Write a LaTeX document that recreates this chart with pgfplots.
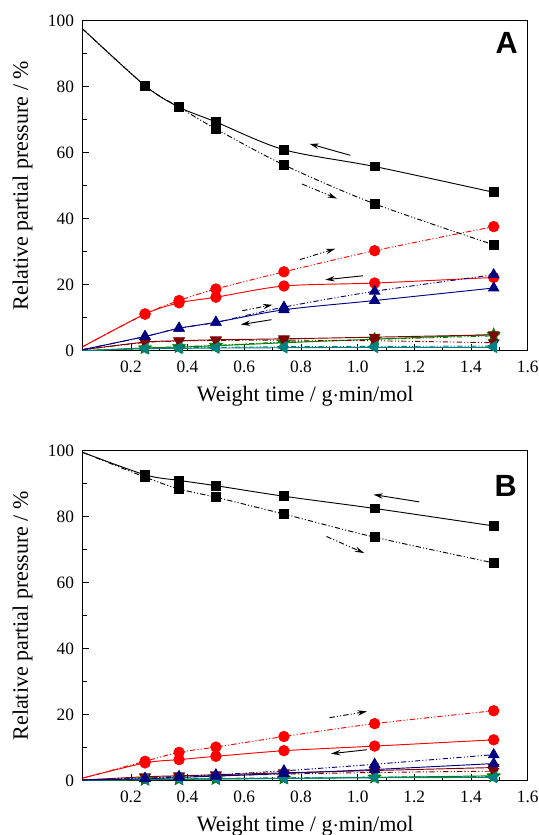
\documentclass[border=0pt]{standalone}
\usepackage{pgfplots}
\pgfplotsset{compat=1.18}
\usepackage{pgfplotstable}
\usetikzlibrary{arrows.meta}
\usepackage{fontspec}
\setmainfont{Liberation Serif}
\setsansfont{Liberation Sans}

\definecolor{cnavy}{RGB}{0,0,128}
\definecolor{cmaroon}{RGB}{128,0,0}
\definecolor{cgreen}{RGB}{0,128,0}
\definecolor{cteal}{RGB}{0,128,128}

% filled five-point star
\pgfdeclareplotmark{fstar}{%
  \pgfpathmoveto{\pgfpointpolar{90}{\pgfplotmarksize}}%
  \pgfpathlineto{\pgfpointpolar{126}{0.45\pgfplotmarksize}}%
  \pgfpathlineto{\pgfpointpolar{162}{\pgfplotmarksize}}%
  \pgfpathlineto{\pgfpointpolar{198}{0.45\pgfplotmarksize}}%
  \pgfpathlineto{\pgfpointpolar{234}{\pgfplotmarksize}}%
  \pgfpathlineto{\pgfpointpolar{270}{0.45\pgfplotmarksize}}%
  \pgfpathlineto{\pgfpointpolar{306}{\pgfplotmarksize}}%
  \pgfpathlineto{\pgfpointpolar{342}{0.45\pgfplotmarksize}}%
  \pgfpathlineto{\pgfpointpolar{18}{\pgfplotmarksize}}%
  \pgfpathlineto{\pgfpointpolar{54}{0.45\pgfplotmarksize}}%
  \pgfpathclose\pgfusepathqfillstroke}

% x, then solid/dash-dot pairs: black squares, red circles, blue up, maroon down, green stars, teal left
\pgfplotstableread{
x    ks   kd   rs   rd   bs   bd   ms  md  gs  gd  ts  td
0.03 97.5 97.5 1.2  1.2  0.3  0.3  0.3 0.3 0.0 0.0 0.0 0.0
0.25 80.3 80.3 11.1 11.1 4.3  4.3  2.6 2.5 0.8 0.8 0.6 0.7
0.37 73.8 73.8 14.5 15.2 6.8  6.8  3.0 2.9 1.1 1.2 0.7 0.9
0.50 69.3 67.2 16.2 18.7 8.6  8.6  3.3 3.1 1.5 1.6 0.8 1.0
0.74 60.9 56.3 19.6 23.9 12.4 13.2 3.6 3.2 2.4 2.6 0.9 1.2
1.06 55.8 44.5 20.5 30.3 15.2 18.0 4.1 3.0 3.5 3.4 1.0 1.3
1.48 48.0 32.1 22.2 37.6 19.0 23.0 4.8 2.4 4.9 4.5 1.0 1.4
}\tabA

\pgfplotstableread{
x    ks   kd   rs   rd   bs   bd   ms  md  gs  gd  ts  td
0.03 99.5 99.5 0.8  0.8  0.2  0.2  0.2 0.2 0.0 0.0 0.0 0.0
0.25 92.7 92.0 5.4  5.9  0.6  0.7  1.2 1.0 0.3 0.3 0.4 0.5
0.37 91.0 88.4 6.4  8.6  1.0  1.3  1.5 1.2 0.4 0.5 0.5 0.6
0.50 89.4 85.9 7.4  10.2 1.4  1.8  1.8 1.5 0.5 0.6 0.6 0.7
0.74 86.2 80.8 9.1  13.4 2.2  3.0  2.4 2.0 0.7 0.8 0.7 0.9
1.06 82.5 73.8 10.5 17.3 3.4  5.0  3.1 2.5 1.0 1.1 0.9 1.0
1.48 77.2 66.0 12.4 21.2 5.2  7.9  4.0 2.9 1.5 1.3 1.0 1.1
}\tabB

\tikzset{
  arr/.style={black, line width=0.7pt, -{Stealth[length=7pt,width=4pt]}},
  darr/.style={arr, dash pattern=on 4pt off 1.6pt on 0.8pt off 1.6pt on 0.8pt off 1.6pt},
}

\pgfplotsset{
  panel/.style={
    scale only axis, width=333.75pt, height=247.5pt,
    xmin=0.03, xmax=1.6, ymin=0, ymax=100,
    xtick={0.2,0.4,...,1.6}, ytick={0,20,...,100},
    minor x tick num=1, minor y tick num=1,
    tick align=inside, xtick pos=bottom, ytick pos=left,
    major tick length=5pt, minor tick length=3pt,
    tick style={black, line width=0.5pt},
    axis line style={line width=0.7pt},
    /pgf/number format/assume math mode=true,
    tick label style={font=\fontsize{13}{13}\selectfont},
    xticklabel style={yshift=-4pt, /pgf/number format/.cd, fixed, fixed zerofill, precision=1},
    yticklabel style={xshift=-3pt},
    label style={font=\fontsize{16.5}{16.5}\selectfont},
    xlabel={Weight time / g$\cdot$min/mol},
    ylabel={Relative partial pressure / \%},
    xlabel style={at={(rel axis cs:0.5,0)}, anchor=center, yshift=-34pt},
    ylabel style={at={(axis description cs:-0.135,0.5)}, anchor=center},
  },
  sl/.style={line width=0.7pt, smooth, mark indices={2,3,4,5,6,7}, mark options={solid}},
  dl/.style={sl, dash pattern=on 4pt off 1.6pt on 0.8pt off 1.6pt on 0.8pt off 1.6pt},
  msq/.style={mark=square*, mark size=3.3pt},
  mci/.style={mark=*, mark size=3.9pt},
  mtu/.style={mark=triangle*, mark size=4.4pt},
  mtd/.style={mark=triangle*, mark size=4.4pt, mark options={solid, rotate=180}},
  mtl/.style={mark=triangle*, mark size=4.4pt, mark options={solid, rotate=90}},
  mst/.style={mark=fstar, mark size=4.6pt},
}

\newcommand\drawseries[1]{%
  \addplot[sl, cgreen, mst] table[x=x, y=gs]{#1};
  \addplot[dl, cgreen, mst] table[x=x, y=gd]{#1};
  \addplot[sl, cmaroon, mtd] table[x=x, y=ms]{#1};
  \addplot[dl, cmaroon, mtd] table[x=x, y=md]{#1};
  \addplot[sl, cteal, mtl] table[x=x, y=ts]{#1};
  \addplot[dl, cteal, mtl] table[x=x, y=td]{#1};
  \addplot[sl, red, mci] table[x=x, y=rs]{#1};
  \addplot[dl, red, mci] table[x=x, y=rd]{#1};
  \addplot[sl, cnavy, mtu] table[x=x, y=bs]{#1};
  \addplot[dl, cnavy, mtu] table[x=x, y=bd]{#1};
  \addplot[sl, black, msq] table[x=x, y=ks]{#1};
  \addplot[dl, black, msq] table[x=x, y=kd]{#1};
}

\begin{document}
\begin{tikzpicture}
\begin{axis}[panel, name=a, anchor=north west, at={(0,0)}]
  \drawseries{\tabA}
  \draw[arr] (0.974,59.2) -- (0.83,62.7);
  \draw[darr] (0.804,50.5) -- (0.927,46.1);
  \draw[darr] (0.796,27.6) -- (0.921,30.9);
  \draw[arr] (1.019,22.7) -- (0.886,21.5);
  \draw[darr] (0.593,12.1) -- (0.699,13.9);
  \draw[arr] (0.696,9.4) -- (0.588,7.9);
  \node[anchor=north east, inner sep=0pt, font=\fontsize{23}{23}\selectfont\sffamily\bfseries]
    at (rel axis cs:0.978,0.964) {A};
\end{axis}
\begin{axis}[panel, name=b, anchor=north west, at={(0,-322.5pt)}]
  \drawseries{\tabB}
  \draw[arr] (1.217,84.5) -- (1.056,86.7);
  \draw[darr] (0.89,74.0) -- (1.023,69.0);
  \draw[darr] (0.901,19.1) -- (1.033,21.0);
  \draw[arr] (1.033,9.4) -- (0.906,8.2);
  \node[anchor=north east, inner sep=0pt, font=\fontsize{23}{23}\selectfont\sffamily\bfseries]
    at (rel axis cs:0.976,0.927) {B};
\end{axis}
\pgfresetboundingbox
\path (-62pt,15.5pt) rectangle (342.2pt,-610.7pt);
\end{tikzpicture}
\end{document}
